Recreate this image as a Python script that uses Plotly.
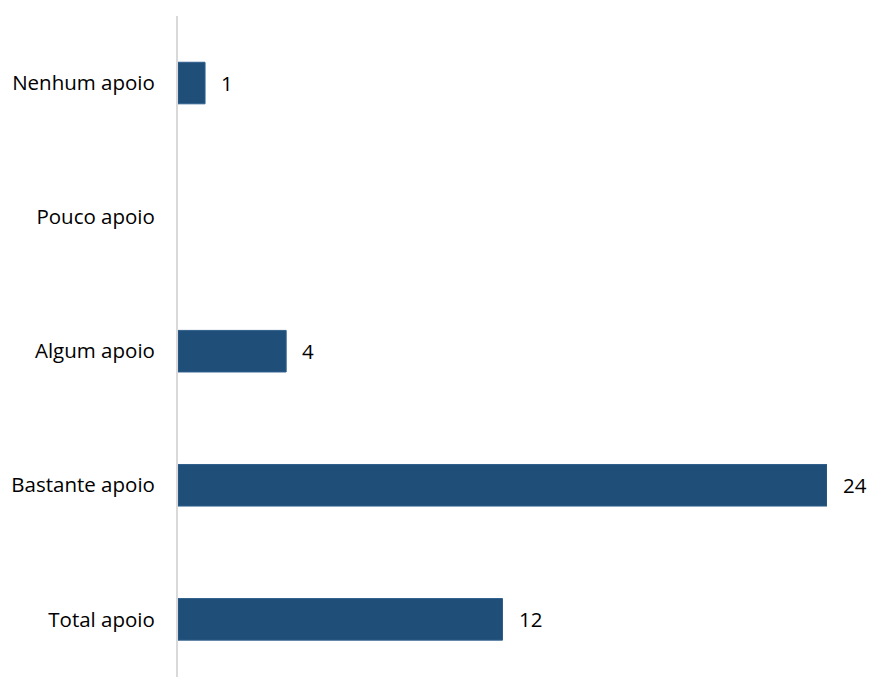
import plotly.graph_objects as go

categories = ["Nenhum apoio", "Pouco apoio", "Algum apoio", "Bastante apoio", "Total apoio"]
values = [1, None, 4, 24, 12]
labels = ["1", "", "4", "24", "12"]

FONT = "Open Sans"
FS = 20.5

fig = go.Figure(go.Bar(
    y=categories, x=values, orientation="h",
    marker=dict(color="#1F4E79", line=dict(color="#2E5F8C", width=1)),
    width=0.31,
    cliponaxis=False,
))

for c, v, t in zip(categories, values, labels):
    if v is None:
        continue
    fig.add_annotation(x=v, y=c, text=t, showarrow=False, xanchor="left",
                       xshift=14, font=dict(size=FS, family=FONT, color="#000000"))

fig.update_layout(
    width=869, height=677,
    margin=dict(l=178, r=42, t=16, b=0),
    paper_bgcolor="white", plot_bgcolor="white",
    showlegend=False,
    font=dict(family=FONT, size=FS, color="#000000"),
    xaxis=dict(range=[0, 24], showgrid=False, zeroline=False, showticklabels=False,
               showline=False, fixedrange=True),
    yaxis=dict(categoryorder="array", categoryarray=categories,
               range=[4.43, -0.5], showgrid=False, zeroline=False,
               showline=True, linecolor="#D9D9D9", linewidth=2,
               ticks="outside", ticklen=17, tickcolor="rgba(0,0,0,0)",
               tickfont=dict(size=FS, family=FONT, color="#000000")),
)

fig.write_html("out.html")
